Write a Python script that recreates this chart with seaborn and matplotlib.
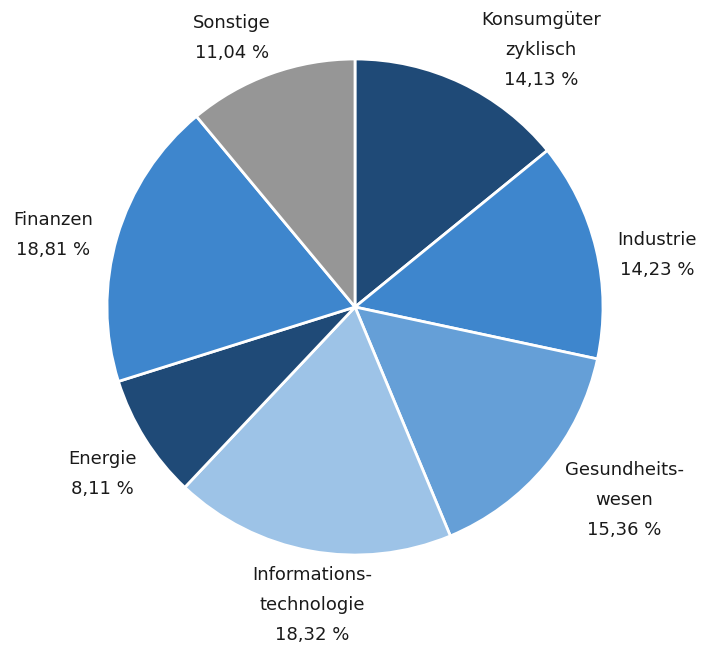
import matplotlib
matplotlib.use("Agg")
import matplotlib.pyplot as plt
import seaborn as sns

# sector weights in percent, clockwise from 12 o'clock
sectors = ["Konsumgüter\nzyklisch", "Industrie", "Gesundheits-\nwesen",
           "Informations-\ntechnologie", "Energie", "Finanzen", "Sonstige"]
weights = [14.13, 14.23, 15.36, 18.32, 8.11, 18.81, 11.04]
colors = ["#1F4A77", "#3E86CD", "#659FD7", "#9DC3E7", "#1F4A77", "#3E86CD", "#969696"]

# label anchors in pie-radius units (layout only)
label_pos = [(0.75, 1.035), (1.218, 0.21), (1.085, -0.778), (-0.173, -1.202),
             (-1.02, -0.673), (-1.218, 0.29), (-0.496, 1.085)]

sns.set_theme(style="white")
plt.rcParams["font.family"] = ["DejaVu Sans"]

labels = [f"{s}\n{w:.2f} %".replace(".", ",") for s, w in zip(sectors, weights)]

fig = plt.figure(figsize=(7.04, 6.48), dpi=100)
ax = fig.add_axes([0, 0, 1, 1])

ax.pie(
    weights,
    colors=colors,
    startangle=90,
    counterclock=False,
    wedgeprops={"edgecolor": "white", "linewidth": 2},
)
for lab, (x, y) in zip(labels, label_pos):
    ax.text(x, y, lab, ha="center", va="center", multialignment="center",
            fontsize=13, color="#1a1a1a", linespacing=1.85)

ax.set_xlim(-355 / 248, (704 - 355) / 248)
ax.set_ylim(-341 / 248, (648 - 341) / 248)
ax.set_aspect("auto")
ax.axis("off")

plt.savefig("out.png", dpi=100)
plt.close()
